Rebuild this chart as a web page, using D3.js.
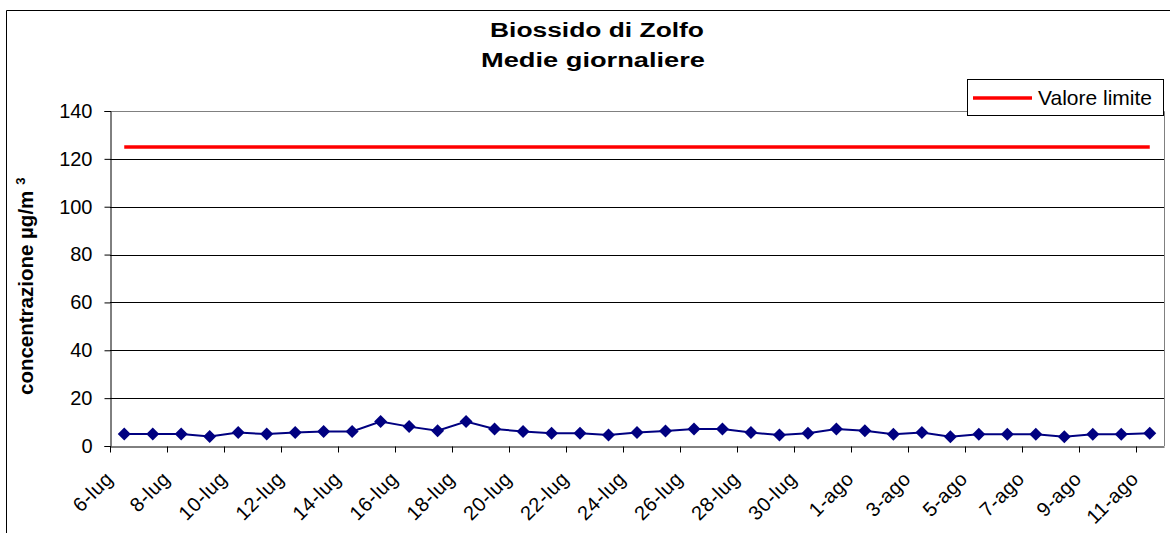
<!DOCTYPE html>
<html>
<head>
<meta charset="utf-8">
<script src="https://cdn.jsdelivr.net/npm/d3@7"></script>
<style>
  html, body { margin: 0; padding: 0; background: #fff; }
  svg { display: block; font-family: "Liberation Sans", Arial, sans-serif; }
</style>
</head>
<body>
<svg id="chart" width="1170" height="533"></svg>
<script>
// daily dates, 6-lug .. 11-ago
const dates = [
  '6-lug', '7-lug', '8-lug', '9-lug', '10-lug', '11-lug', '12-lug', '13-lug', '14-lug', '15-lug',
  '16-lug', '17-lug', '18-lug', '19-lug', '20-lug', '21-lug', '22-lug', '23-lug', '24-lug', '25-lug',
  '26-lug', '27-lug', '28-lug', '29-lug', '30-lug', '31-lug', '1-ago', '2-ago', '3-ago', '4-ago',
  '5-ago', '6-ago', '7-ago', '8-ago', '9-ago', '10-ago', '11-ago'
];
// SO2 daily means (µg/m3)
const so2 = [
  5, 5, 5, 4, 5.6, 5, 5.6, 6.1, 6.1, 10.2,
  8.1, 6.4, 10.2, 7.1, 6.1, 5.3, 5.3, 4.6, 5.6, 6.3,
  7.1, 7.1, 5.6, 4.6, 5.3, 7.1, 6.4, 4.9, 5.6, 3.9,
  4.9, 4.9, 4.9, 3.9, 4.9, 4.9, 5.3
];
const limitValue = 125;
const limite = dates.map(() => limitValue);
const yTicks = [0, 20, 40, 60, 80, 100, 120, 140];
const titleLines = ['Biossido di Zolfo', 'Medie giornaliere'];

const svg = d3.select('#chart');
const plot = { left: 110, top: 111, right: 1164, bottom: 446 };

const x = d3.scaleBand().domain(d3.range(dates.length)).range([plot.left, plot.right]).padding(0);
const y = d3.scaleLinear().domain([0, 140]).range([plot.bottom, plot.top]);
const cx = (i) => x(i) + x.bandwidth() / 2;

// outer chart border (top + left visible)
svg.append('path')
  .attr('d', `M6.5,533 V10.5 H1170`)
  .attr('fill', 'none').attr('stroke', '#000').attr('stroke-width', 1);

// title
svg.append('g').selectAll('text')
  .data(titleLines)
  .join('text')
  .attr('x', (d, i) => i === 0 ? 597 : 593)
  .attr('y', (d, i) => 37 + i * 30)
  .attr('text-anchor', 'middle')
  .attr('font-size', 20)
  .attr('font-weight', 'bold')
  .attr('lengthAdjust', 'spacingAndGlyphs')
  .attr('textLength', (d, i) => i === 0 ? 214 : 224)
  .text((d) => d);

// gridlines
svg.append('g').selectAll('line')
  .data(yTicks.filter((t) => t > 0 && t < 140))
  .join('line')
  .attr('x1', plot.left).attr('x2', plot.right)
  .attr('y1', (d) => Math.round(y(d)) + 0.5).attr('y2', (d) => Math.round(y(d)) + 0.5)
  .attr('stroke', '#000').attr('stroke-width', 1);

// plot area border (top/right gray)
svg.append('path')
  .attr('d', `M${plot.left},${plot.top + 0.5} H${plot.right + 0.5} V${plot.bottom}`)
  .attr('fill', 'none').attr('stroke', '#808080').attr('stroke-width', 1);

// y axis
const yAxis = d3.axisLeft(y).tickValues(yTicks).tickSize(6).tickPadding(12);
const yg = svg.append('g')
  .attr('transform', `translate(${plot.left + 0.5},0)`)
  .call(yAxis);
yg.select('.domain').attr('stroke', '#000');
yg.selectAll('.tick line').attr('stroke', '#000');
yg.selectAll('.tick text')
  .attr('font-size', 20)
  .attr('font-family', '"Liberation Sans", Arial, sans-serif')
  .attr('fill', '#000');

// x axis
const xAxis = d3.axisBottom(x).tickValues([]).tickSizeOuter(0);
const xg = svg.append('g')
  .attr('transform', `translate(0,${plot.bottom + 0.5})`)
  .call(xAxis);
xg.select('.domain').attr('stroke', '#000');
// tick marks every 2 days, at category boundaries
xg.selectAll('line.tk')
  .data(dates.map((d, i) => i).filter((i) => i % 2 === 0))
  .join('line')
  .attr('class', 'tk')
  .attr('x1', (i) => Math.round(x(i)) + 0.5).attr('x2', (i) => Math.round(x(i)) + 0.5)
  .attr('y1', 0).attr('y2', 6)
  .attr('stroke', '#000');

svg.append('g').selectAll('text')
  .data(dates.map((d, i) => ({ d, i })).filter((o) => o.i % 2 === 0))
  .join('text')
  .attr('transform', (o) => `translate(${cx(o.i) - 10},${plot.bottom + 34}) rotate(-45)`)
  .attr('text-anchor', 'end')
  .attr('font-size', 20)
  .attr('letter-spacing', 0.5)
  .attr('fill', '#000')
  .text((o) => o.d);

// y axis title
const yt = svg.append('text')
  .attr('transform', 'translate(33,395) rotate(-90)')
  .attr('font-size', 20.5)
  .attr('font-weight', 'bold');
yt.append('tspan').text('concentrazione µg/m');
yt.append('tspan').attr('dx', 6).attr('dy', -8).attr('font-size', 13).text('3');

// limit line
const line = d3.line().x((d, i) => cx(i)).y((d) => y(d));
svg.append('path')
  .datum(limite)
  .attr('d', line)
  .attr('fill', 'none')
  .attr('stroke', '#FF0000')
  .attr('stroke-width', 3.5);

// SO2 series
svg.append('path')
  .datum(so2)
  .attr('d', line)
  .attr('fill', 'none')
  .attr('stroke', '#000080')
  .attr('stroke-width', 2);

svg.append('g').selectAll('path')
  .data(so2)
  .join('path')
  .attr('transform', (d, i) => `translate(${cx(i)},${y(d)})`)
  .attr('d', 'M0,-6.5 L6.5,0 L0,6.5 L-6.5,0 Z')
  .attr('fill', '#000080');

// legend
const lg = svg.append('g').attr('transform', 'translate(967,79)');
lg.append('rect')
  .attr('x', 0.5).attr('y', 0.5).attr('width', 196).attr('height', 36)
  .attr('fill', '#fff').attr('stroke', '#000').attr('stroke-width', 1);
lg.append('line')
  .attr('x1', 6).attr('x2', 65).attr('y1', 19).attr('y2', 19)
  .attr('stroke', '#FF0000').attr('stroke-width', 3.5);
lg.append('text')
  .attr('x', 71).attr('y', 26)
  .attr('font-size', 21)
  .text('Valore limite');
</script>
</body>
</html>
